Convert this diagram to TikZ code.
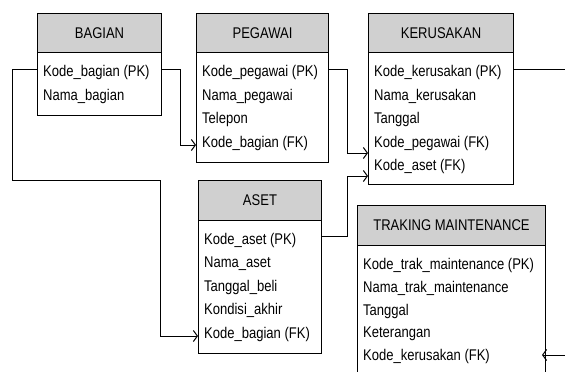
\documentclass[tikz,border=0pt]{standalone}
\usepackage{fontspec}
\setmainfont{Liberation Sans}[FakeStretch=0.84]
\usetikzlibrary{arrows.meta,calc}
\definecolor{hdrgray}{RGB}{208,208,208}
\tikzset{
  hdr/.style={draw=black, fill=hdrgray, line width=1pt, anchor=north west, inner sep=0pt,
    font=\fontsize{15.5}{18}\selectfont},
  tbody/.style={draw=black, fill=white, line width=1pt, anchor=north west, inner sep=0pt},
  row/.style={anchor=west, inner sep=0pt, font=\fontsize{15.5}{18}\selectfont},
  link/.style={draw=black, line width=1pt},
  fk/.style={-{Straight Barb[length=4pt,width=11pt]}}
}
\begin{document}
\begin{tikzpicture}[x=1pt,y=-1pt]
\clip (0,0) rectangle (565,372);
\useasboundingbox (0,0) rectangle (565,372);
% BAGIAN
\node[hdr, minimum width=124pt, minimum height=39pt] (bagianH) at (37,13) {BAGIAN};
\node[tbody, minimum width=124pt, minimum height=63pt] (bagian) at (37,52) {};
\node[row] (b1) at (43,72.5) {Kode\_bagian (PK)};
\node[row] (b2) at (43,96) {Nama\_bagian};
% PEGAWAI
\node[hdr, minimum width=132pt, minimum height=39pt] (pegawaiH) at (196,13) {PEGAWAI};
\node[tbody, minimum width=132pt, minimum height=110pt] (pegawai) at (196,52) {};
\node[row] (p1) at (202,72.5) {Kode\_pegawai (PK)};
\node[row] (p2) at (202,96) {Nama\_pegawai};
\node[row] (p3) at (202,119.5) {Telepon};
\node[row] (p4) at (202,143) {Kode\_bagian (FK)};
% KERUSAKAN
\node[hdr, minimum width=145pt, minimum height=39pt] (kerusakanH) at (368,13) {KERUSAKAN};
\node[tbody, minimum width=145pt, minimum height=132pt] (kerusakan) at (368,52) {};
\node[row] (k1) at (374,72.5) {Kode\_kerusakan (PK)};
\node[row] (k2) at (374,96) {Nama\_kerusakan};
\node[row] (k3) at (374,119.5) {Tanggal};
\node[row] (k4) at (374,143) {Kode\_pegawai (FK)};
\node[row] (k5) at (374,166.5) {Kode\_aset (FK)};
% ASET
\node[hdr, minimum width=123pt, minimum height=40pt] (asetH) at (198,180) {ASET};
\node[tbody, minimum width=123pt, minimum height=133pt] (aset) at (198,220) {};
\node[row] (a1) at (204,240) {Kode\_aset (PK)};
\node[row] (a2) at (204,263.5) {Nama\_aset};
\node[row] (a3) at (204,287) {Tanggal\_beli};
\node[row] (a4) at (204,310.5) {Kondisi\_akhir};
\node[row] (a5) at (204,334) {Kode\_bagian (FK)};
% TRAKING MAINTENANCE
\node[hdr, minimum width=188pt, minimum height=40pt] (trakH) at (357,205) {TRAKING MAINTENANCE};
\node[tbody, minimum width=188pt, minimum height=150pt] (trak) at (357,245) {};
\node[row] (t1) at (363,265) {Kode\_trak\_maintenance (PK)};
\node[row] (t2) at (363,288) {Nama\_trak\_maintenance};
\node[row] (t3) at (363,311) {Tanggal};
\node[row] (t4) at (363,333.5) {Keterangan};
\node[row] (t5) at (363,356) {Kode\_kerusakan (FK)};
% connectors
\draw[link, fk] (bagian.west |- 0,69) -- (12,69) |- (160,180) |- (aset.west |- 0,336);
\draw[link, fk] (bagian.east |- 0,69) -- (180,69) |- (pegawai.west |- 0,145);
\draw[link, fk] (pegawai.east |- 0,69) -- (347,69) |- (kerusakan.west |- 0,153);
\draw[link, fk] (aset.east |- 0,236) -- (347,236) |- (kerusakan.west |- 0,176);
\coordinate (far) at (580,69);
\coordinate (tin) at ($(trak.east |- 0,355)+(-4,0)$);
\draw[link, fk] (kerusakan.east |- 0,69) -- (far) |- (tin);
\end{tikzpicture}
\end{document}
